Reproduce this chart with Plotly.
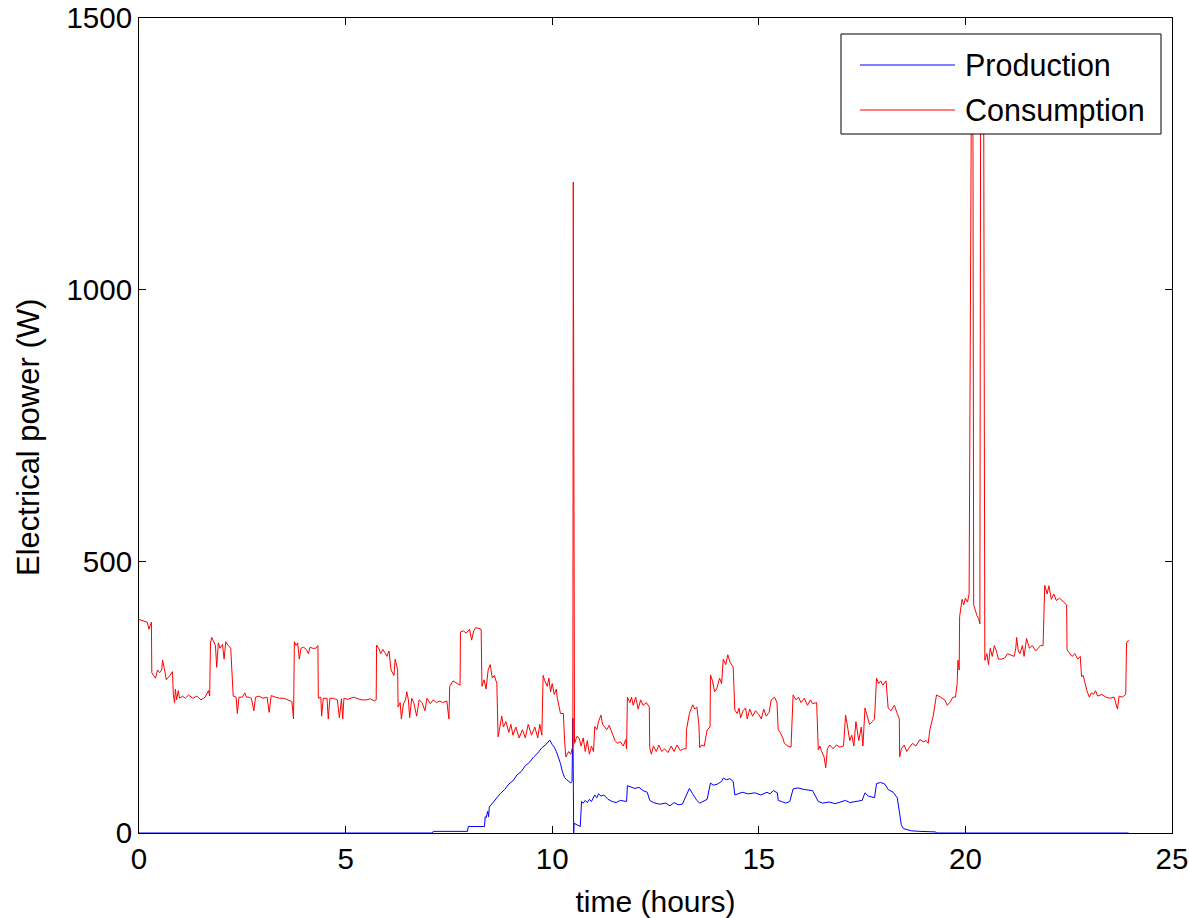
import plotly.graph_objects as go

# ---------------- data ----------------
cons_t = [0.00,0.10,0.20,0.24,0.28,0.30,0.31,0.36,0.40,0.45,0.50,0.55,0.57,0.62,0.66,0.75,0.81,0.83,0.86,0.88,
          0.91,0.95,0.98,1.05,1.12,1.20,1.30,1.40,1.50,1.60,1.68,1.71,1.73,1.76,1.80,1.85,1.88,1.92,1.96,2.02,
          2.06,2.10,2.16,2.22,2.28,2.35,2.38,2.42,2.50,2.56,2.60,2.66,2.72,2.78,2.82,2.90,3.00,3.10,3.15,3.20,
          3.30,3.40,3.50,3.60,3.70,3.74,3.76,3.80,3.84,3.88,3.92,3.98,4.05,4.10,4.14,4.20,4.28,4.33,4.34,4.40,
          4.42,4.46,4.55,4.58,4.62,4.70,4.80,4.85,4.90,4.93,4.96,5.05,5.20,5.30,5.40,5.50,5.60,5.70,5.74,5.75,
          5.80,5.85,5.90,5.95,6.00,6.05,6.10,6.17,6.20,6.26,6.27,6.32,6.35,6.40,6.45,6.48,6.52,6.55,6.60,6.65,
          6.72,6.78,6.85,6.92,6.97,7.05,7.12,7.20,7.28,7.35,7.45,7.50,7.52,7.60,7.70,7.77,7.78,7.85,7.92,8.00,
          8.05,8.10,8.15,8.25,8.28,8.30,8.35,8.40,8.45,8.50,8.55,8.60,8.66,8.69,8.75,8.78,8.82,8.88,8.95,9.00,
          9.05,9.12,9.20,9.28,9.35,9.42,9.50,9.58,9.65,9.70,9.75,9.78,9.82,9.88,9.92,9.96,10.00,10.05,10.10,10.12,
          10.20,10.27,10.30,10.33,10.40,10.45,10.50,10.51,10.54,10.60,10.65,10.70,10.75,10.80,10.85,10.90,10.95,11.00,11.03,11.08,
          11.12,11.18,11.22,11.27,11.32,11.38,11.45,11.52,11.58,11.65,11.72,11.78,11.80,11.82,11.88,11.92,11.96,12.02,12.08,12.14,
          12.20,12.28,12.35,12.36,12.40,12.45,12.52,12.58,12.65,12.72,12.80,12.88,12.95,13.02,13.10,13.18,13.24,13.25,13.32,13.40,
          13.45,13.50,13.55,13.57,13.62,13.68,13.75,13.80,13.82,13.83,13.88,13.93,13.98,14.05,14.10,14.14,14.20,14.25,14.30,14.38,
          14.42,14.48,14.52,14.56,14.62,14.68,14.72,14.78,14.85,14.92,15.00,15.06,15.12,15.18,15.25,15.30,15.38,15.44,15.47,15.52,
          15.58,15.62,15.70,15.78,15.83,15.90,15.96,16.02,16.10,16.18,16.25,16.30,16.40,16.44,16.48,16.52,16.58,16.62,16.66,16.72,
          16.80,16.88,16.96,17.05,17.10,17.15,17.20,17.25,17.30,17.35,17.42,17.48,17.52,17.57,17.62,17.68,17.75,17.80,17.85,17.90,
          17.95,18.00,18.08,18.13,18.20,18.28,18.35,18.40,18.41,18.45,18.52,18.58,18.65,18.72,18.80,18.90,18.98,19.05,19.10,19.14,
          19.22,19.30,19.40,19.50,19.56,19.62,19.70,19.76,19.80,19.82,19.85,19.86,19.92,19.96,20.00,20.05,20.09,20.15,20.18,20.20,
          20.24,20.28,20.32,20.35,20.37,20.44,20.47,20.52,20.56,20.60,20.65,20.70,20.75,20.80,20.88,20.95,21.02,21.10,21.18,21.22,
          21.24,21.28,21.32,21.38,21.42,21.48,21.55,21.62,21.70,21.76,21.82,21.88,21.92,21.98,22.02,22.08,22.14,22.20,22.28,22.38,
          22.45,22.46,22.52,22.58,22.65,22.72,22.78,22.81,22.85,22.90,22.94,23.00,23.05,23.10,23.15,23.20,23.30,23.40,23.50,23.60,
          23.68,23.72,23.80,23.88,23.90,23.95]
cons_w = [393,390,388,375,385,388,295,290,285,300,295,300,318,300,282,290,297,255,240,265,
          245,262,248,252,248,254,248,252,245,250,262,252,350,360,352,345,305,350,340,347,
          320,352,345,340,252,250,220,250,250,258,250,250,248,225,250,252,248,250,222,253,
          250,248,248,245,242,210,352,345,350,320,340,342,338,330,342,340,340,345,248,250,
          215,248,248,210,248,248,245,212,247,210,248,246,250,247,245,245,247,243,245,346,
          340,330,338,332,325,335,300,290,320,300,232,240,210,238,245,260,245,212,248,240,
          215,245,240,225,248,238,245,240,243,240,243,210,270,280,275,272,370,372,368,375,
          355,372,378,375,375,270,282,265,300,310,285,290,275,177,200,215,195,205,185,200,
          180,195,175,190,175,200,180,195,175,200,180,290,280,270,285,260,275,255,265,250,
          220,220,170,140,150,145,160,1198,165,178,175,160,175,150,170,145,160,150,196,190,
          205,217,200,195,190,198,185,170,165,168,160,172,155,250,240,250,235,250,228,245,
          235,240,232,157,145,160,150,162,150,155,148,160,150,162,152,155,155,190,220,236,
          228,232,200,157,162,160,190,195,195,291,280,260,265,285,275,320,310,328,315,305,
          226,220,230,212,225,230,210,228,215,225,218,210,228,215,222,245,250,240,190,185,
          175,165,160,158,254,245,250,240,248,235,245,238,240,153,160,150,140,120,155,162,
          155,162,158,160,217,195,170,180,160,205,170,195,160,230,215,200,205,210,285,275,
          280,272,280,230,225,235,220,210,140,155,162,150,158,165,160,172,168,170,165,190,
          215,254,250,245,235,240,250,250,275,318,300,398,430,420,432,425,440,1450,1450,420,
          410,400,395,385,1450,1450,318,330,310,340,325,345,335,320,320,322,330,328,325,340,
          360,335,330,345,325,358,340,345,335,340,345,345,456,440,455,430,440,428,432,425,
          420,337,330,325,330,320,325,288,290,272,262,250,258,255,262,252,255,250,248,250,
          228,252,250,255,350,355]

prod_t = [0.00,7.10,7.12,7.95,7.97,8.36,8.38,8.40,8.44,8.46,8.48,8.55,8.65,8.75,8.85,8.95,9.05,9.15,9.25,9.35,
          9.45,9.55,9.65,9.75,9.85,9.94,10.00,10.05,10.10,10.15,10.20,10.25,10.30,10.35,10.45,10.48,10.50,10.52,10.53,10.60,
          10.68,10.71,10.75,10.80,10.85,10.90,10.95,11.03,11.08,11.12,11.18,11.25,11.35,11.45,11.55,11.65,11.80,11.82,11.90,12.00,
          12.10,12.20,12.30,12.36,12.45,12.60,12.75,12.85,12.95,13.05,13.15,13.25,13.32,13.40,13.50,13.57,13.65,13.75,13.83,13.90,
          14.00,14.10,14.14,14.22,14.30,14.38,14.42,14.50,14.60,14.75,14.90,15.05,15.20,15.27,15.35,15.45,15.47,15.55,15.65,15.75,
          15.83,15.95,16.10,16.30,16.44,16.55,16.70,16.85,17.00,17.10,17.20,17.35,17.50,17.57,17.65,17.80,17.85,17.95,18.05,18.13,
          18.25,18.35,18.41,18.45,18.50,18.60,18.70,18.90,19.10,19.28,19.30,23.95]
prod_w = [0,0,3,3,12,12,30,28,40,30,48,55,63,73,80,90,96,107,113,124,
          130,140,147,157,163,171,163,158,150,140,128,112,102,98,92,95,211,0,18,15,
          12,58,55,60,56,62,58,70,65,72,68,70,62,58,56,60,58,87,85,82,
          84,78,75,60,56,53,55,50,56,52,53,70,82,72,60,55,58,62,92,88,
          90,95,101,98,100,95,70,72,75,72,74,70,75,72,78,74,60,58,55,58,
          81,83,80,78,58,55,57,54,58,60,56,58,60,74,68,65,91,93,90,80,
          75,65,30,15,8,6,4,3,2,2,0,0]

series_names = ["Production", "Consumption"]
x_ticks = [0, 5, 10, 15, 20, 25]
y_ticks = [0, 500, 1000, 1500]

FONT = "Liberation Sans, Arial, sans-serif"

fig = go.Figure()
fig.add_trace(go.Scatter(x=prod_t, y=prod_w, mode="lines", name=series_names[0],
                         line=dict(color="#0000FF", width=1), showlegend=False))
fig.add_trace(go.Scatter(x=cons_t, y=cons_w, mode="lines", name=series_names[1],
                         line=dict(color="#FF0000", width=1), showlegend=False))

# plot area in pixels: left 139, right 1172, top 18, bottom 833
def px(xpix):
    return (xpix - 139) / 1033.0

def py(ypix):
    return (833 - ypix) / 815.0

shapes = [
    dict(type="rect", xref="paper", yref="paper", x0=px(841), x1=px(1161), y0=py(134), y1=py(34),
         line=dict(color="black", width=1), fillcolor="white", layer="above"),
    dict(type="line", xref="paper", yref="paper", x0=px(860), x1=px(955), y0=py(65), y1=py(65),
         line=dict(color="#0000FF", width=1), layer="above"),
    dict(type="line", xref="paper", yref="paper", x0=px(860), x1=px(955), y0=py(110), y1=py(110),
         line=dict(color="#FF0000", width=1), layer="above"),
]
annotations = [
    dict(xref="paper", yref="paper", x=px(963), y=py(65), text=series_names[0], showarrow=False,
         xanchor="left", yanchor="middle", font=dict(family=FONT, size=30.5, color="black")),
    dict(xref="paper", yref="paper", x=px(963), y=py(110), text=series_names[1], showarrow=False,
         xanchor="left", yanchor="middle", font=dict(family=FONT, size=30.5, color="black")),
    dict(xref="paper", yref="paper", x=px(28), y=py(438), text="Electrical power (W)", showarrow=False,
         textangle=-90, xanchor="center", yanchor="middle", font=dict(family=FONT, size=31, color="black")),
]

axis_common = dict(showline=True, linecolor="black", linewidth=1, mirror="ticks",
                   ticks="inside", ticklen=7, tickcolor="black", showgrid=False, zeroline=False,
                   automargin=False,
                   tickfont=dict(family=FONT, size=29.5, color="black"))

fig.update_layout(
    width=1189, height=918,
    margin=dict(l=139, r=17, t=18, b=85),
    paper_bgcolor="white", plot_bgcolor="white",
    font=dict(family=FONT, color="black"),
    xaxis=dict(range=[0, 25], tickvals=x_ticks, ticktext=[str(v) for v in x_ticks],
               title=dict(text="time (hours)", font=dict(family=FONT, size=30), standoff=18),
               **axis_common),
    yaxis=dict(range=[0, 1500], tickvals=y_ticks, ticktext=[str(v) for v in y_ticks],
               **axis_common),
    shapes=shapes, annotations=annotations,
)

fig.write_html("out.html")
